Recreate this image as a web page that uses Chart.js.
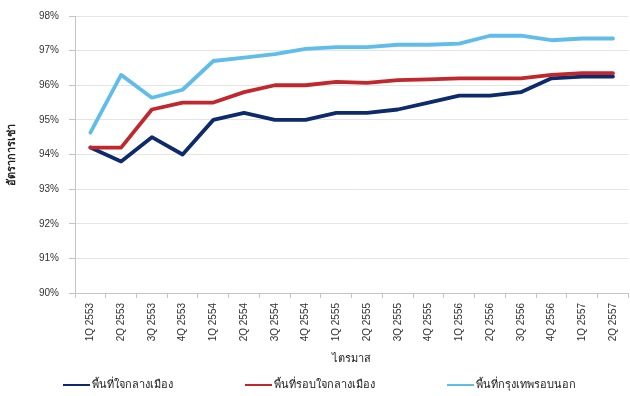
<!DOCTYPE html>
<html>
<head>
<meta charset="utf-8">
<script src="https://cdn.jsdelivr.net/npm/chart.js@4/dist/chart.umd.min.js"></script>
<style>
  html, body { margin: 0; padding: 0; background: #fff; }
  #wrap { width: 630px; height: 396px; position: relative; }
</style>
</head>
<body>
<div id="wrap"><canvas id="c" width="630" height="396"></canvas></div>
<script>
// Quarterly occupancy rate by zone (percent)
const quarters = [
  '1Q 2553', '2Q 2553', '3Q 2553', '4Q 2553',
  '1Q 2554', '2Q 2554', '3Q 2554', '4Q 2554',
  '1Q 2555', '2Q 2555', '3Q 2555', '4Q 2555',
  '1Q 2556', '2Q 2556', '3Q 2556', '4Q 2556',
  '1Q 2557', '2Q 2557'
];
const cbd = [94.2, 93.8, 94.5, 94.0, 95.0, 95.2, 95.0, 95.0, 95.2, 95.2, 95.3, 95.5, 95.7, 95.7, 95.8, 96.2, 96.25, 96.25];
const cbdFringe = [94.2, 94.2, 95.3, 95.5, 95.5, 95.8, 96.0, 96.0, 96.1, 96.07, 96.15, 96.17, 96.2, 96.2, 96.2, 96.3, 96.35, 96.35];
const outerBkk = [94.63, 96.3, 95.64, 95.87, 96.7, 96.8, 96.9, 97.05, 97.1, 97.1, 97.17, 97.17, 97.2, 97.43, 97.43, 97.3, 97.35, 97.35];
const seriesNames = ['พื้นที่ใจกลางเมือง', 'พื้นที่รอบใจกลางเมือง', 'พื้นที่กรุงเทพรอบนอก'];
const xTitle = 'ไตรมาส';
const yTitle = 'อัตราการเช่า';
const yMin = 90, yMax = 98, yStep = 1;

const colors = ['#0d2a6c', '#c1282d', '#60bde9'];
const fontFamily = "'Liberation Sans', Arial, 'Noto Sans', sans-serif";

function lineSet(label, data, color, order) {
  return {
    label, data, order,
    borderColor: color,
    backgroundColor: color,
    borderWidth: 3.8,
    borderJoinStyle: 'round',
    borderCapStyle: 'round',
    pointRadius: 0,
    pointHoverRadius: 0,
    tension: 0,
    fill: false
  };
}

// Legend drawn as a single row of short line swatches under the axis title
const lineLegend = {
  id: 'lineLegend',
  afterDraw(chart) {
    const ctx = chart.ctx;
    const starts = [63, 245, 447];
    const y = 385;
    ctx.save();
    ctx.font = '11px ' + fontFamily;
    ctx.textBaseline = 'middle';
    ctx.textAlign = 'left';
    chart.data.datasets.forEach((ds, i) => {
      const x = starts[i];
      ctx.strokeStyle = ds.borderColor;
      ctx.lineWidth = 2;
      ctx.beginPath();
      ctx.moveTo(x, y);
      ctx.lineTo(x + 27, y);
      ctx.stroke();
      ctx.fillStyle = '#222';
      ctx.fillText(ds.label, x + 29, y);
    });
    ctx.restore();
  }
};

new Chart(document.getElementById('c'), {
  type: 'line',
  data: {
    labels: quarters,
    datasets: [
      lineSet(seriesNames[0], cbd, colors[0], 3),
      lineSet(seriesNames[1], cbdFringe, colors[1], 2),
      lineSet(seriesNames[2], outerBkk, colors[2], 1)
    ]
  },
  plugins: [lineLegend],
  options: {
    responsive: false,
    animation: false,
    layout: { padding: { left: 5, right: 0, top: 15, bottom: 30 } },
    plugins: {
      tooltip: { enabled: false },
      legend: { display: false }
    },
    scales: {
      x: {
        offset: true,
        afterFit(scale) { scale.height = 73; },
        grid: {
          offset: true,
          drawOnChartArea: false,
          drawTicks: true,
          tickLength: 5,
          color: '#c4c4c4'
        },
        border: { color: '#c4c4c4' },
        ticks: {
          autoSkip: false,
          maxRotation: 90,
          minRotation: 90,
          padding: 5,
          color: '#333',
          font: { family: fontFamily, size: 10 }
        },
        title: {
          display: true,
          text: xTitle,
          color: '#222',
          padding: { top: 0, bottom: 0 },
          font: { family: fontFamily, size: 11 }
        }
      },
      y: {
        min: yMin,
        max: yMax,
        afterFit(scale) { scale.width = 70; },
        grid: {
          color: '#e4e4e4',
          tickLength: 6,
          tickColor: '#c4c4c4'
        },
        border: { color: '#c4c4c4' },
        ticks: {
          stepSize: yStep,
          padding: 10,
          color: '#333',
          font: { family: fontFamily, size: 10 },
          callback: v => v + '%'
        },
        title: {
          display: true,
          text: yTitle,
          color: '#222',
          padding: { top: 0, bottom: 0 },
          font: { family: fontFamily, size: 11, weight: 'bold' }
        }
      }
    }
  }
});
</script>
</body>
</html>
